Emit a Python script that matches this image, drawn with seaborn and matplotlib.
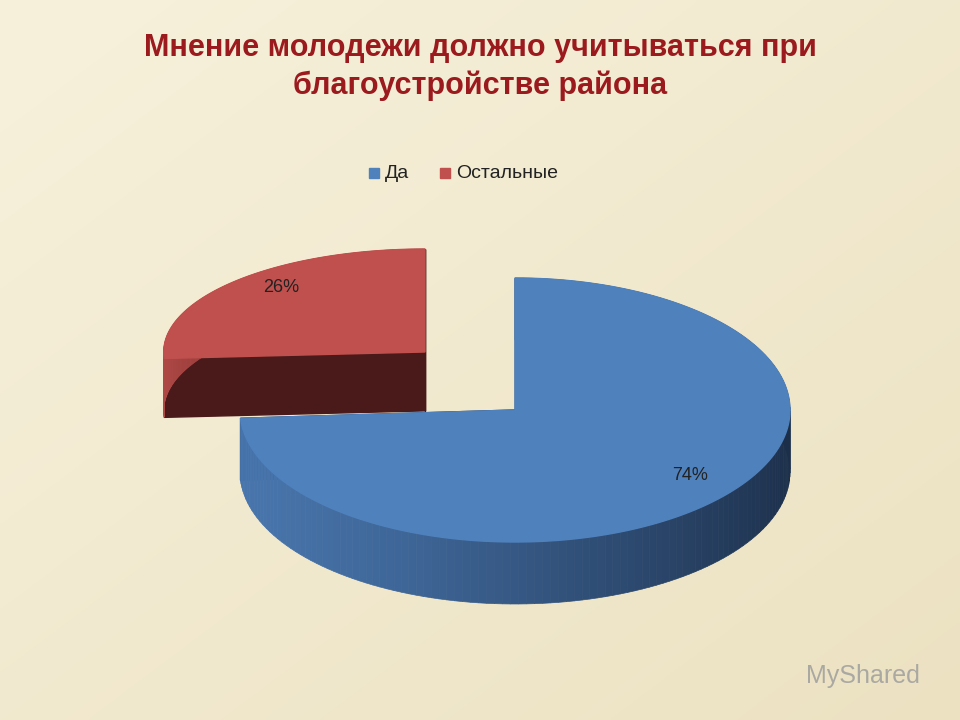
import numpy as np
import matplotlib
matplotlib.use("Agg")
import matplotlib.pyplot as plt
import seaborn as sns
from matplotlib.patches import Polygon, Rectangle
from matplotlib.colors import to_rgb

sns.set_theme(style="white")
plt.rcParams['font.family'] = ['Liberation Sans', 'DejaVu Sans']

labels = ['Да', 'Остальные']
values = [74, 26]
pct_labels = ['74%', '26%']
top_colors = ['#4f81bd', '#c0504d']
side_colors = ['#1c2f4a', '#4a1a1a']

fig = plt.figure(figsize=(9.6, 7.2), dpi=100)
ax = fig.add_axes([0, 0, 1, 1])
ax.set_xlim(0, 960); ax.set_ylim(720, 0); ax.axis('off')

g = np.linspace(0, 1, 256)
X, Y = np.meshgrid(g, g)
t = (X * 0.5 + Y * 0.5)
c1 = np.array(to_rgb('#f7f1dc')); c2 = np.array(to_rgb('#ece2c2'))
img = c1 * (1 - t[..., None]) + c2 * t[..., None]
ax.imshow(img, extent=[0, 960, 720, 0], aspect='auto', zorder=0)

rx, ry, depth = 275, 132, 62
centers = [(515, 410), (425, 352)]
scales = [(1.0, 1.0), (0.95, 0.78)]

fr = np.array(values) / sum(values)
starts = 90 - 360 * np.concatenate([[0], np.cumsum(fr)[:-1]])
ends = starts - 360 * fr

def pt(cx, cy, sx, sy, a, dz=0):
    r = np.deg2rad(a)
    return cx + rx * sx * np.cos(r), cy - ry * sy * np.sin(r) + dz

for i in [1, 0]:
    cx, cy = centers[i]; sx, sy = scales[i]
    a0, a1 = starts[i], ends[i]
    d = depth * (0.95 if i == 1 else 1)
    base = np.array(to_rgb(side_colors[i])); light = np.array(to_rgb(top_colors[i]))
    for a in (a0, a1):
        ex, ey = pt(cx, cy, sx, sy, a)
        ax.add_patch(Polygon([(cx, cy), (ex, ey), (ex, ey + d), (cx, cy + d)],
                             closed=True, color=base, zorder=2 + (i == 0) * 2))
    angs = np.linspace(a1, a0, 160)
    for k in range(len(angs) - 1):
        p1 = pt(cx, cy, sx, sy, angs[k]); p2 = pt(cx, cy, sx, sy, angs[k + 1])
        s = 0.5 + 0.5 * np.cos(np.deg2rad(angs[k] - 190))
        col = base * (1 - 0.85 * s) + light * 0.85 * s
        ax.add_patch(Polygon([p1, p2, (p2[0], p2[1] + d), (p1[0], p1[1] + d)],
                             closed=True, color=np.clip(col, 0, 1), lw=0.5, zorder=3 + (i == 0) * 2))
    pts = [(cx, cy)] + [pt(cx, cy, sx, sy, a) for a in np.linspace(a0, a1, 200)]
    ax.add_patch(Polygon(pts, closed=True, color=top_colors[i], zorder=4 + (i == 0) * 2))

ax.text(690, 475, pct_labels[0], ha='center', va='center', fontsize=13, color='#222', zorder=10)
ax.text(281, 287, pct_labels[1], ha='center', va='center', fontsize=13, color='#222', zorder=10)

ax.text(480, 48, 'Мнение молодежи должно учитываться при', ha='center', va='center',
        fontsize=22, fontweight='bold', color='#9b1a1e')
ax.text(480, 86, 'благоустройстве района', ha='center', va='center',
        fontsize=22, fontweight='bold', color='#9b1a1e')

lx = [369, 440]
for i in range(2):
    ax.add_patch(Rectangle((lx[i], 168), 10, 10, color=top_colors[i], zorder=10))
    ax.text(lx[i] + 16, 173, labels[i], ha='left', va='center', fontsize=14, color='#222')

ax.text(920, 676, 'MyShared', ha='right', va='center', fontsize=18, color='#9a9a9a', alpha=0.8)

fig.savefig('out.png', dpi=100)
